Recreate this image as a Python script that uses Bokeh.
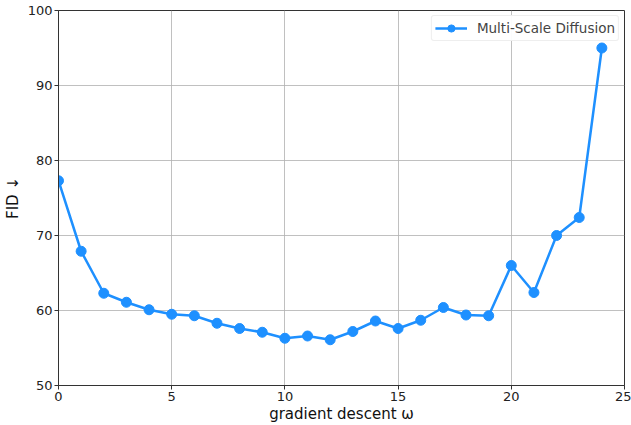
from bokeh.plotting import figure
from bokeh.models import Range1d, FixedTicker
from bokeh.embed import file_html
from bokeh.resources import INLINE

omega = list(range(25))
fid = [77.3, 67.9, 62.3, 61.1, 60.1, 59.5, 59.3, 58.3, 57.6, 57.1, 56.3, 56.6, 56.1,
       57.2, 58.6, 57.6, 58.7, 60.4, 59.4, 59.3, 66.0, 62.4, 70.0, 72.4, 95.0]
x_ticks = [0, 5, 10, 15, 20, 25]
y_ticks = [50, 60, 70, 80, 90, 100]

color = "#1E90FF"
p = figure(width=631, height=425, output_backend="svg", toolbar_location=None,
           x_range=Range1d(0, 25), y_range=Range1d(50, 100),
           min_border_left=10, min_border_right=7, min_border_top=10, min_border_bottom=40)

p.line(omega, fid, line_color=color, line_width=2.5, legend_label="Multi-Scale Diffusion")
p.scatter(omega, fid, size=10, fill_color=color, line_color=color, legend_label="Multi-Scale Diffusion")

p.xaxis.ticker = FixedTicker(ticks=x_ticks)
p.yaxis.ticker = FixedTicker(ticks=y_ticks)
for ax in (p.xaxis, p.yaxis):
    ax.major_label_text_font = "DejaVu Sans"
    ax.major_label_text_font_size = "13px"
    ax.major_label_text_color = "#222222"
    ax.axis_label_text_font = "DejaVu Sans"
    ax.axis_label_text_font_size = "15px"
    ax.axis_label_text_font_style = "normal"
    ax.axis_label_text_color = "#111111"
    ax.axis_line_color = "#333333"
    ax.major_tick_line_color = "#333333"
    ax.major_tick_in = 0
    ax.major_tick_out = 4
    ax.minor_tick_line_color = None
    ax.major_label_standoff = 2
p.xaxis.axis_label = "gradient descent ω"
p.yaxis.axis_label = "FID ↓"
p.xaxis.axis_label_standoff = 1
p.yaxis.axis_label_standoff = 3

p.grid.grid_line_color = "#b0b0b0"
p.grid.grid_line_alpha = 0.8
p.outline_line_color = "#333333"
p.outline_line_alpha = 1

lg = p.legend[0]
lg.location = "top_right"
lg.label_text_font = "DejaVu Sans"
lg.label_text_font_size = "13.5px"
lg.border_line_color = "#dddddd"
lg.border_radius = 3
lg.margin = 5
lg.padding = 3
lg.glyph_width = 32
lg.glyph_height = 18
lg.label_standoff = 10
lg.spacing = 0

open("out.html", "w").write(file_html(p, INLINE))
